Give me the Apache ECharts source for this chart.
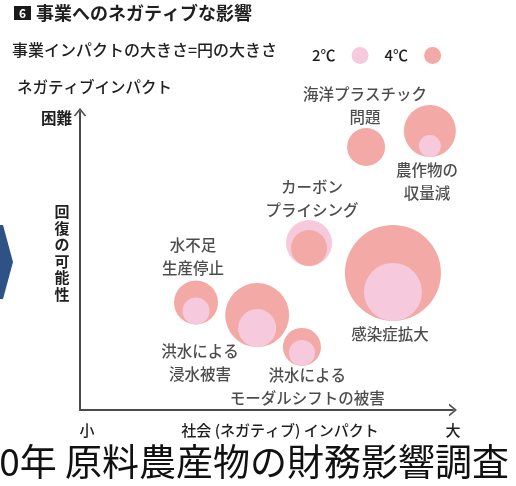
<!DOCTYPE html>
<html><head><meta charset="utf-8">
<script src="https://cdn.jsdelivr.net/npm/echarts@6/dist/echarts.min.js"></script>
<style>html,body{margin:0;padding:0;background:#fff}#c{width:516px;height:486px}</style>
</head><body><div id="c"></div>
<script>
// ---- data ----
const impacts = ['海洋プラスチック\n問題', '農作物の\n収量減', 'カーボン\nプライシング', '水不足\n生産停止', '洪水による\n浸水被害', '洪水による\nモーダルシフトの被害', '感染症拡大'];
// social (negative) impact, 0 = small .. 100 = large
const socialImpact = [76.7, 93.8, 61.4, 31.1, 47.5, 59.5, 83.9];
// difficulty of recovery (bottom of the bubbles), 0 = easy .. 100 = difficult
const recoveryDifficulty = [81.9, 84.9, 48.3, 28.7, 21.1, 14.8, 29.9];
// business impact size (bubble diameter units)
const impact4C = [38, 52, 36, 44, 64, 38, 96];
const impact2C = [null, 22, 46, 27, 38, 26, 58];
// label anchor positions (in axis units)
const labelX = [76.4, 93.0, 62.2, 30.3, 32.2, 60.9, 83.1];
const labelY = [102.0, 76.7, 70.8, 51.5, 15.9, 7.9, 25.5];

const FONT = '"Noto Sans CJK JP", "Noto Sans", sans-serif';
const C4 = '#f3aaa6';
const C2 = '#f6c9dd';
const TXT = '#1f1f1f';

function pts(arr, other, larger) {
  const out = [];
  arr.forEach((v, i) => {
    if (v == null) return;
    const o = other[i] == null ? -1 : other[i];
    if ((v >= o) === larger) out.push([socialImpact[i], recoveryDifficulty[i], v]);
  });
  return out;
}
function bubble(name, color, data, z) {
  return {
    name, type: 'scatter', data, z, clip: false,
    symbol: 'circle', symbolSize: v => v[2], symbolOffset: [0, '-50%'],
    itemStyle: { color, opacity: 1 }, emphasis: { disabled: true }, silent: true
  };
}
const chevron = 'path://M0,8 L6.5,0 L13,8 L11,8 L6.5,2.4 L2,8 Z';
const axisCommon = {
  type: 'value', min: 0, max: 100,
  axisTick: { show: false }, axisLabel: { show: false }, splitLine: { show: false },
  axisLine: { show: true, onZero: false, lineStyle: { color: '#4a4a4a', width: 2 },
    symbol: ['none', chevron], symbolSize: [13, 8] }
};

function txt(text, x, y, size, align, extra) {
  extra = extra || {};
  return { type: 'text', silent: true, style: {
    text, x, y, fill: extra.fill || TXT,
    font: (extra.weight ? extra.weight + ' ' : '') + size + 'px ' + FONT,
    align: align, textAlign: align, verticalAlign: 'middle', textVerticalAlign: 'middle',
    lineHeight: extra.lh
  } };
}
const chart = echarts.init(document.getElementById('c'), null, { renderer: 'canvas' });
chart.setOption({
  animation: false,
  backgroundColor: '#fff',
  grid: { left: 80, right: 63, top: 112, bottom: 76 },
  xAxis: axisCommon,
  yAxis: axisCommon,
  legend: {
    data: ['2℃', '4℃'], left: 307, top: 42, align: 'right', icon: 'circle',
    itemWidth: 17, itemHeight: 17, itemGap: 16, selectedMode: false,
    textStyle: { fontSize: 15, fontWeight: 500, color: TXT, fontFamily: FONT, padding: [0, 11, 0, 0] }
  },
  series: [
    bubble('4℃', C4, pts(impact4C, impact2C, true), 2),
    bubble('2℃', C2, pts(impact2C, impact4C, true), 3),
    bubble('4℃', C4, pts(impact4C, impact2C, false), 4),
    bubble('2℃', C2, pts(impact2C, impact4C, false), 5),
    {
      type: 'scatter', name: 'labels', clip: false, silent: true, z: 10,
      symbolSize: 0, data: labelX.map((x, i) => [x, labelY[i]]),
      label: { show: true, position: 'inside', formatter: p => impacts[p.dataIndex],
        color: TXT, fontSize: 15.5, fontWeight: 500, fontFamily: FONT, lineHeight: 23, align: 'center', verticalAlign: 'middle' }
    }
  ],
  graphic: [
    { type: 'polygon', silent: true, shape: { points: [[0, 225], [3, 225], [13, 262], [3, 299], [0, 299]] }, style: { fill: '#2f5286' } },
    { type: 'rect', silent: true, shape: { x: 14, y: 6, width: 17, height: 14 }, style: { fill: '#1a1a1a' } },
    txt('6', 22.5, 13.5, 12, 'center', { weight: 'bold', fill: '#fff' }),
    txt('事業へのネガティブな影響', 36, 13, 18, 'left', { weight: 'bold' }),
    txt('事業インパクトの大きさ=円の大きさ', 12, 50, 16, 'left', { weight: 500 }),
    txt('ネガティブインパクト', 17, 87, 15.5, 'left', { weight: 500 }),
    txt('困難', 72, 118, 15.5, 'right', { weight: 'bold' }),
    txt('回\n復\nの\n可\n能\n性', 62, 253, 15, 'center', { weight: 'bold', lh: 16.5 }),
    txt('小', 87, 430, 15, 'center', { weight: 500 }),
    txt('社会 (ネガティブ) インパクト', 280, 430, 15, 'center', { weight: 500 }),
    txt('大', 453, 430, 15, 'center', { weight: 500 }),
    txt('0年 原料農産物の財務影響調査', 509, 462, 37, 'right', { fill: '#111' })
  ]
});
</script></body></html>
